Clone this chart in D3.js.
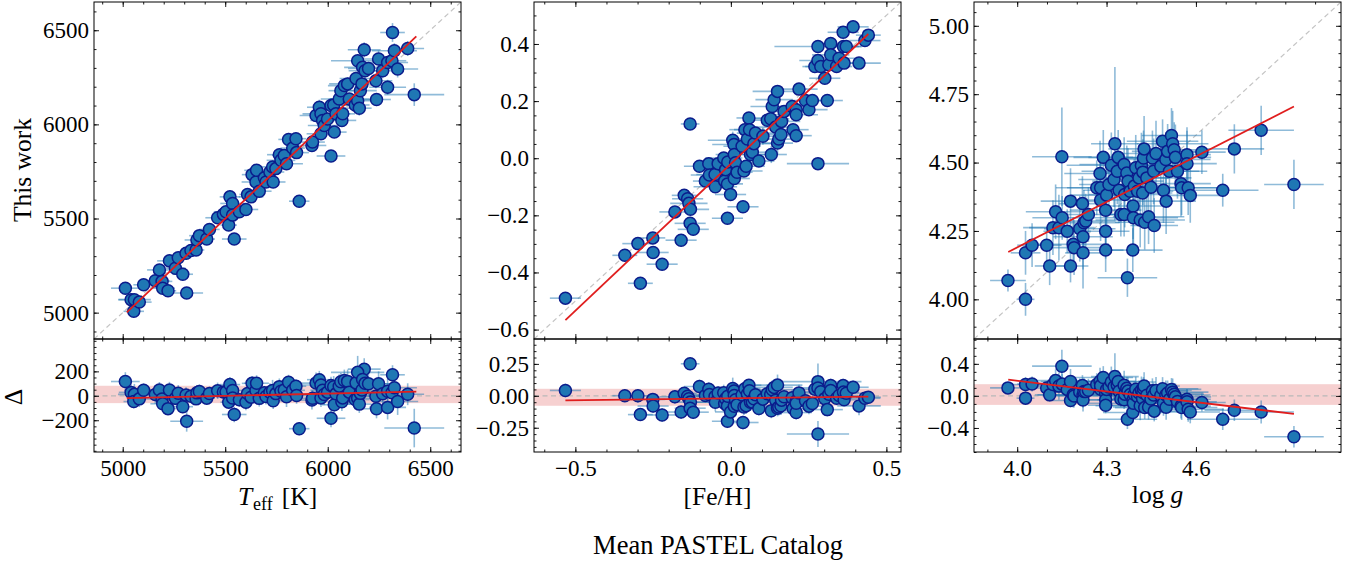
<!DOCTYPE html>
<html><head><meta charset="utf-8">
<script src="https://cdn.jsdelivr.net/npm/d3@7"></script>
<style>body{margin:0;background:#fff} svg{display:block} text{font-family:"Liberation Serif","Times New Roman",serif;fill:#000}</style>
</head><body><svg id="c" width="1353" height="565"></svg>
<script>
// ---------------- DATA ----------------
// Teff: PASTEL mean (x) vs this work (y)
const teffRef = [5013,5041,5057,5054,5081,5102,5159,5179,5192,5195,
5221,5228,5257,5271,5293,5312,5309,5333,5358,5362,
5374,5410,5423,5463,5491,5504,5523,5517,5536,5536,
5544,5569,5601,5609,5626,5631,5650,5653,5666,5691,
5699,5718,5731,5734,5747,5764,5772,5788,5799,5809,
5829,5845,5848,5861,5923,5926,5943,5959,5967,5967,
5975,5983,5999,6016,6016,6029,6032,6040,6056,6064,
6069,6073,6081,6097,6105,6134,6138,6146,6154,6159,
6167,6178,6146,6170,6182,6199,6235,6238,6248,6268,
6292,6292,6313,6316,6325,6341,6390,6422];
const teffOurs = [5130,5069,5069,5007,5056,5148,5169,5227,5166,5130,
5116,5275,5236,5292,5204,5104,5315,5330,5333,5386,
5409,5391,5442,5504,5522,5536,5615,5465,5580,5518,
5391,5536,5548,5628,5615,5733,5694,5756,5645,5716,
5694,5747,5774,5694,5765,5839,5809,5835,5791,5920,
5874,5924,5850,5592,5888,5906,6047,6091,6056,5950,
6021,5994,6029,6100,5832,6103,5959,6056,6135,6179,
6021,6056,6206,6215,6135,6103,6244,6126,6086,6179,
6215,6396,6338,6303,6285,6297,6232,6132,6347,6285,
6329,6197,6338,6488,6391,6294,6403,6158];
const teffRefErr = [70,60,80,50,60,50,70,60,50,60,
40,60,50,60,50,80,60,50,40,60,
50,40,50,60,50,60,50,40,60,50,
60,50,60,40,60,50,70,60,60,50,
60,70,80,60,50,60,70,60,80,50,
60,50,60,50,70,60,80,60,90,70,
60,80,70,60,70,80,60,70,90,60,
70,60,80,90,100,70,80,90,60,80,
70,80,130,90,80,100,80,70,90,80,
100,90,70,60,110,100,80,146];
const teffOursErr = [30,25,30,25,30,25,30,25,20,30,
25,30,25,30,20,30,25,30,20,25,
30,20,25,30,25,30,35,25,30,25,
20,30,25,30,25,35,30,25,30,25,
30,25,35,30,25,30,25,30,25,35,
30,25,30,20,30,25,35,40,30,25,
30,35,30,40,25,35,30,40,35,40,
30,35,40,35,30,40,35,30,40,35,
45,40,35,40,45,35,40,35,45,40,
35,40,45,50,40,45,40,60];
const teffFitX = [5020, 6432];
const teffFitY = [5001, 6467];
const teffBand = [-60, 82];

// [Fe/H]
const fehRef = [-0.532,-0.341,-0.299,-0.291,-0.251,-0.250,-0.221,-0.180,-0.160,-0.150,
-0.139,-0.135,-0.130,-0.131,-0.121,-0.131,-0.101,-0.082,-0.071,-0.069,
-0.051,-0.050,-0.041,-0.023,-0.020,-0.017,-0.011,-0.010,-0.011,-0.001,
0.006,0.010,0.011,0.011,0.015,0.020,0.036,0.039,0.042,0.045,
0.049,0.053,0.058,0.060,0.063,0.069,0.074,0.079,0.090,0.103,
0.117,0.128,0.130,0.133,0.139,0.144,0.150,0.150,0.154,0.161,
0.163,0.171,0.197,0.200,0.210,0.210,0.210,0.219,0.240,0.251,
0.262,0.270,0.280,0.280,0.280,0.289,0.302,0.310,0.315,0.321,
0.321,0.340,0.348,0.361,0.364,0.362,0.371,0.393,0.412,0.431,0.442];
const fehOurs = [-0.490,-0.340,-0.299,-0.438,-0.279,-0.330,-0.371,-0.188,-0.287,-0.130,
-0.142,-0.158,-0.179,-0.228,-0.249,0.120,-0.028,-0.080,-0.019,-0.059,
-0.057,-0.100,-0.019,0.001,-0.080,-0.040,-0.090,-0.013,-0.210,-0.127,
0.063,0.048,-0.071,0.013,-0.016,-0.049,0.042,-0.170,-0.045,0.100,
-0.028,0.067,0.141,0.100,0.013,0.021,0.051,0.088,-0.010,0.077,
0.133,0.138,0.013,0.181,0.205,0.109,0.234,0.053,0.067,0.083,
0.129,0.164,0.181,0.100,0.079,0.170,0.152,0.242,0.202,0.170,
0.202,0.321,0.391,0.342,-0.019,0.321,0.280,0.202,0.327,0.402,
0.362,0.321,0.350,0.441,0.333,0.391,0.391,0.460,0.333,0.412,0.431];
const fehRefErr = [0.05,0.04,0.05,0.04,0.04,0.05,0.05,0.05,0.05,0.04,
0.05,0.06,0.06,0.05,0.05,0.03,0.05,0.04,0.05,0.06,
0.06,0.07,0.05,0.06,0.05,0.07,0.05,0.06,0.05,0.05,
0.08,0.07,0.05,0.06,0.07,0.05,0.06,0.05,0.06,0.05,
0.06,0.05,0.04,0.05,0.06,0.05,0.07,0.06,0.05,0.06,
0.07,0.06,0.05,0.07,0.06,0.07,0.08,0.05,0.06,0.07,
0.06,0.05,0.06,0.05,0.05,0.06,0.07,0.06,0.05,0.06,
0.05,0.04,0.14,0.06,0.10,0.05,0.05,0.05,0.06,0.05,
0.06,0.05,0.06,0.05,0.04,0.05,0.05,0.05,0.07,0.05,0.04];
const fehOursErr = [0.02,0.02,0.02,0.02,0.02,0.02,0.02,0.02,0.02,0.02,
0.03,0.02,0.02,0.02,0.02,0.02,0.02,0.02,0.02,0.02,
0.02,0.02,0.02,0.02,0.03,0.02,0.02,0.02,0.02,0.02,
0.03,0.02,0.02,0.02,0.03,0.02,0.02,0.02,0.02,0.03,
0.02,0.02,0.02,0.02,0.03,0.03,0.02,0.02,0.02,0.03,
0.02,0.02,0.03,0.02,0.02,0.02,0.02,0.04,0.03,0.02,
0.02,0.02,0.02,0.02,0.02,0.02,0.02,0.02,0.02,0.02,
0.02,0.02,0.02,0.02,0.02,0.02,0.02,0.02,0.02,0.02,
0.02,0.02,0.02,0.02,0.02,0.02,0.02,0.02,0.02,0.02,0.02];
const fehFitX = [-0.532, 0.442];
const fehFitY = [-0.567, 0.435];
const fehBand = [-0.078, 0.055];

// log g
const loggRef = [3.969,4.028,4.028,4.050,4.099,4.109,4.120,4.129,4.140,4.151,
4.150,4.168,4.179,4.179,4.188,4.191,4.210,4.219,4.221,4.221,
4.224,4.230,4.239,4.267,4.278,4.280,4.280,4.289,4.297,4.297,
4.297,4.300,4.308,4.316,4.325,4.328,4.336,4.339,4.342,4.348,
4.359,4.359,4.361,4.368,4.370,4.372,4.379,4.388,4.389,4.390,
4.393,4.398,4.404,4.409,4.413,4.417,4.421,4.422,4.424,4.426,
4.428,4.435,4.441,4.449,4.454,4.458,4.460,4.466,4.482,4.488,
4.491,4.499,4.500,4.505,4.511,4.518,4.522,4.527,4.531,4.538,
4.550,4.552,4.570,4.570,4.574,4.581,4.620,4.690,4.729,4.819,4.929];
const loggOurs = [4.069,4.000,4.170,4.198,4.198,4.122,4.262,4.320,4.262,4.298,
4.521,4.249,4.359,4.122,4.201,4.189,4.258,4.350,4.229,4.170,
4.280,4.286,4.310,4.408,4.460,4.363,4.408,4.519,4.326,4.249,
4.180,4.381,4.420,4.490,4.438,4.569,4.468,4.519,4.399,4.310,
4.310,4.493,4.383,4.462,4.079,4.432,4.395,4.180,4.341,4.298,
4.414,4.481,4.395,4.444,4.290,4.489,4.389,4.465,4.517,4.550,
4.282,4.444,4.302,4.410,4.517,4.468,4.270,4.533,4.487,4.578,
4.399,4.511,4.359,4.541,4.468,4.599,4.569,4.547,4.519,4.468,
4.423,4.408,4.529,4.496,4.408,4.380,4.538,4.399,4.550,4.618,4.420];
const loggRefErr = [0.06,0.03,0.05,0.05,0.05,0.05,0.08,0.10,0.12,0.10,
0.10,0.08,0.10,0.06,0.12,0.10,0.12,0.08,0.10,0.06,
0.12,0.10,0.10,0.10,0.12,0.10,0.15,0.10,0.12,0.08,
0.06,0.12,0.10,0.15,0.12,0.08,0.12,0.10,0.12,0.06,
0.08,0.15,0.12,0.10,0.10,0.12,0.10,0.10,0.12,0.15,
0.12,0.10,0.12,0.10,0.15,0.12,0.10,0.12,0.10,0.12,
0.10,0.15,0.12,0.10,0.12,0.10,0.08,0.12,0.10,0.12,
0.10,0.15,0.10,0.12,0.10,0.10,0.12,0.10,0.12,0.10,
0.10,0.12,0.08,0.10,0.12,0.10,0.08,0.12,0.10,0.11,0.10];
const loggOursErr = [0.04,0.06,0.08,0.08,0.06,0.07,0.10,0.10,0.12,0.08,
0.18,0.08,0.12,0.06,0.10,0.10,0.12,0.10,0.12,0.13,
0.12,0.10,0.10,0.10,0.12,0.15,0.10,0.10,0.12,0.10,
0.08,0.12,0.10,0.12,0.10,0.28,0.12,0.10,0.12,0.08,
0.08,0.10,0.12,0.10,0.07,0.12,0.10,0.08,0.12,0.10,
0.10,0.12,0.10,0.12,0.10,0.12,0.10,0.12,0.10,0.12,
0.10,0.12,0.10,0.12,0.10,0.12,0.10,0.12,0.10,0.08,
0.12,0.10,0.12,0.10,0.12,0.10,0.12,0.10,0.12,0.10,
0.12,0.10,0.10,0.12,0.10,0.10,0.08,0.06,0.09,0.09,0.09];
const loggFitX = [3.970, 4.929];
const loggFitY = [4.173, 4.705];
const loggBand = [-0.112, 0.146];

// axis limits and ticks
const teffLim = [4860, 6650], teffResLim = [-460, 465];
const fehLim = [-0.633, 0.547], fehResLim = [-0.44, 0.445];
const loggLim = [3.855, 5.087], loggResLim = [-0.70, 0.71];
const teffTicks = [5000, 5500, 6000, 6500], teffResTicks = [-200, 0, 200];
const fehXTicks = [-0.5, 0.0, 0.5], fehYTicks = [-0.6, -0.4, -0.2, 0.0, 0.2, 0.4], fehResTicks = [-0.25, 0.0, 0.25];
const loggXTicks = [4.0, 4.3, 4.6], loggYTicks = [4.00, 4.25, 4.50, 4.75, 5.00], loggResTicks = [-0.4, 0.0, 0.4];

// ---------------- DRAW ----------------
const FONT = "Liberation Serif", FS = 23, LFS = 25.5;
const svg = d3.select("#c");
const lefts = [94, 534, 974], PW = 367, TOP = 2, MID = 339, BOT = 452;
const panels = [
  {ref: teffRef, ours: teffOurs, re: teffRefErr, oe: teffOursErr, lim: teffLim, rlim: teffResLim,
   fx: teffFitX, fy: teffFitY, band: teffBand, xt: teffTicks, yt: teffTicks, rt: teffResTicks,
   mx: 100, my: 100, mr: 50, xf: d3.format("d"), yf: d3.format("d"), rf: d3.format("d")},
  {ref: fehRef, ours: fehOurs, re: fehRefErr, oe: fehOursErr, lim: fehLim, rlim: fehResLim,
   fx: fehFitX, fy: fehFitY, band: fehBand, xt: fehXTicks, yt: fehYTicks, rt: fehResTicks,
   mx: 0.1, my: 0.05, mr: 0.05, xf: d3.format(".1f"), yf: d3.format(".1f"), rf: d3.format(".2f")},
  {ref: loggRef, ours: loggOurs, re: loggRefErr, oe: loggOursErr, lim: loggLim, rlim: loggResLim,
   fx: loggFitX, fy: loggFitY, band: loggBand, xt: loggXTicks, yt: loggYTicks, rt: loggResTicks,
   mx: 0.1, my: 0.05, mr: 0.1, xf: d3.format(".1f"), yf: d3.format(".2f"), rf: d3.format(".1f")}
];

const EB = "#1f77b4", MF = "#1f77b4", MS = "#0b1c8c", RED = "#e01e1e";
function minorVals(dom, step) {
  const a = Math.ceil(dom[0] / step - 1e-9), b = Math.floor(dom[1] / step + 1e-9);
  return d3.range(a, b + 1).map(k => +(k * step).toFixed(6));
}
function styleAxis(g) {
  g.attr("font-family", FONT).attr("font-size", FS);
  g.select(".domain").remove();
  g.selectAll("line").attr("stroke", "#000").attr("stroke-width", 0.9);
  g.selectAll("text").attr("font-family", FONT).attr("font-size", FS).attr("fill", "#000");
}
function frameAxes(x, y, xt, yt, mx, my, xf, yf, top, bottom, showX) {
  const L = x.range()[0], R = x.range()[1];
  const defs = [
    [d3.axisBottom(x).tickValues(xt).tickSizeInner(-5).tickSizeOuter(0).tickPadding(8).tickFormat(showX ? xf : () => ""), `translate(0,${bottom})`],
    [d3.axisBottom(x).tickValues(minorVals(x.domain(), mx)).tickSizeInner(-2.5).tickSizeOuter(0).tickFormat(() => ""), `translate(0,${bottom})`],
    [d3.axisTop(x).tickValues(xt).tickSizeInner(-5).tickSizeOuter(0).tickFormat(() => ""), `translate(0,${top})`],
    [d3.axisTop(x).tickValues(minorVals(x.domain(), mx)).tickSizeInner(-2.5).tickSizeOuter(0).tickFormat(() => ""), `translate(0,${top})`],
    [d3.axisLeft(y).tickValues(yt).tickSizeInner(-5).tickSizeOuter(0).tickPadding(5).tickFormat(yf), `translate(${L},0)`],
    [d3.axisLeft(y).tickValues(minorVals(y.domain(), my)).tickSizeInner(-2.5).tickSizeOuter(0).tickFormat(() => ""), `translate(${L},0)`],
    [d3.axisRight(y).tickValues(yt).tickSizeInner(-5).tickSizeOuter(0).tickFormat(() => ""), `translate(${R},0)`],
    [d3.axisRight(y).tickValues(minorVals(y.domain(), my)).tickSizeInner(-2.5).tickSizeOuter(0).tickFormat(() => ""), `translate(${R},0)`]
  ];
  defs.forEach(([ax, tr]) => svg.append("g").attr("transform", tr).call(ax).call(styleAxis));
  svg.append("rect").attr("x", L).attr("y", top).attr("width", R - L).attr("height", bottom - top)
    .attr("fill", "none").attr("stroke", "#000").attr("stroke-width", 1);
}

function scatter(g, x, y, xs, ys, xe, ye) {
  const idx = d3.range(xs.length);
  const eb = g.append("g").attr("stroke", EB).attr("stroke-opacity", 0.5).attr("stroke-width", 1.6);
  eb.selectAll(".h").data(idx).join("line").attr("class", "h")
    .attr("x1", i => x(xs[i] - xe[i])).attr("x2", i => x(xs[i] + xe[i]))
    .attr("y1", i => y(ys[i])).attr("y2", i => y(ys[i]));
  eb.selectAll(".v").data(idx).join("line").attr("class", "v")
    .attr("x1", i => x(xs[i])).attr("x2", i => x(xs[i]))
    .attr("y1", i => y(ys[i] - ye[i])).attr("y2", i => y(ys[i] + ye[i]));
  g.append("g").selectAll("circle").data(idx).join("circle")
    .attr("cx", i => x(xs[i])).attr("cy", i => y(ys[i])).attr("r", 6)
    .attr("fill", MF).attr("stroke", MS).attr("stroke-width", 1.5);
}

panels.forEach((p, k) => {
  const L = lefts[k];
  const x = d3.scaleLinear().domain(p.lim).range([L, L + PW]);
  const y = d3.scaleLinear().domain(p.lim).range([MID, TOP]);
  const yr = d3.scaleLinear().domain(p.rlim).range([BOT, MID]);

  const cm = "clipm" + k, cr = "clipr" + k;
  svg.append("clipPath").attr("id", cm).append("rect").attr("x", L).attr("y", TOP).attr("width", PW).attr("height", MID - TOP);
  svg.append("clipPath").attr("id", cr).append("rect").attr("x", L).attr("y", MID).attr("width", PW).attr("height", BOT - MID);

  // main panel
  const gm = svg.append("g").attr("clip-path", `url(#${cm})`);
  gm.append("line").attr("x1", x(p.lim[0])).attr("y1", y(p.lim[0])).attr("x2", x(p.lim[1])).attr("y2", y(p.lim[1]))
    .attr("stroke", "#c4c4c4").attr("stroke-width", 1.2).attr("stroke-dasharray", "5,3.5");
  scatter(gm, x, y, p.ref, p.ours, p.re, p.oe);
  gm.append("line").attr("x1", x(p.fx[0])).attr("y1", y(p.fy[0])).attr("x2", x(p.fx[1])).attr("y2", y(p.fy[1]))
    .attr("stroke", RED).attr("stroke-width", 1.8);

  // residual panel
  const res = p.ours.map((v, i) => v - p.ref[i]);
  const resErr = p.oe.map((v, i) => Math.sqrt(v * v + p.re[i] * p.re[i]));
  const gr = svg.append("g").attr("clip-path", `url(#${cr})`);
  gr.append("rect").attr("x", L).attr("width", PW).attr("y", yr(p.band[1])).attr("height", yr(p.band[0]) - yr(p.band[1]))
    .attr("fill", "#d62728").attr("fill-opacity", 0.22);
  gr.append("line").attr("x1", L).attr("x2", L + PW).attr("y1", yr(0)).attr("y2", yr(0))
    .attr("stroke", "#b8b8b8").attr("stroke-width", 1.2).attr("stroke-dasharray", "5,3.5");
  scatter(gr, x, yr, p.ref, res, p.re, resErr);
  gr.append("line").attr("x1", x(p.fx[0])).attr("y1", yr(p.fy[0] - p.fx[0])).attr("x2", x(p.fx[1])).attr("y2", yr(p.fy[1] - p.fx[1]))
    .attr("stroke", RED).attr("stroke-width", 1.8);

  frameAxes(x, y, p.xt, p.yt, p.mx, p.my, p.xf, p.yf, TOP, MID, false);
  frameAxes(x, yr, p.xt, p.rt, p.mx, p.mr, p.xf, p.rf, MID, BOT, true);
});

// labels
const cx = k => lefts[k] + PW / 2;
const t1 = svg.append("text").attr("x", cx(0)).attr("y", 505).attr("text-anchor", "middle").attr("font-size", LFS);
t1.append("tspan").attr("font-style", "italic").text("T");
t1.append("tspan").attr("font-size", 18).attr("dy", 5).attr("dx", 1).text("eff");
t1.append("tspan").attr("dy", -5).attr("dx", 9).text("[K]");
svg.append("text").attr("x", cx(1)).attr("y", 505).attr("text-anchor", "middle").attr("font-size", LFS).text("[Fe/H]");
const t3 = svg.append("text").attr("x", cx(2)).attr("y", 503).attr("text-anchor", "middle").attr("font-size", LFS);
t3.append("tspan").text("log");
t3.append("tspan").attr("font-style", "italic").attr("dx", 6).text("g");

svg.append("text").attr("transform", "translate(31,170) rotate(-90)").attr("text-anchor", "middle").attr("font-size", LFS).text("This work");
svg.append("text").attr("transform", "translate(22,397) rotate(-90)").attr("text-anchor", "middle").attr("font-size", LFS).text("Δ");
svg.append("text").attr("x", 718).attr("y", 554).attr("text-anchor", "middle").attr("font-size", 26.5).text("Mean PASTEL Catalog");
</script></body></html>
